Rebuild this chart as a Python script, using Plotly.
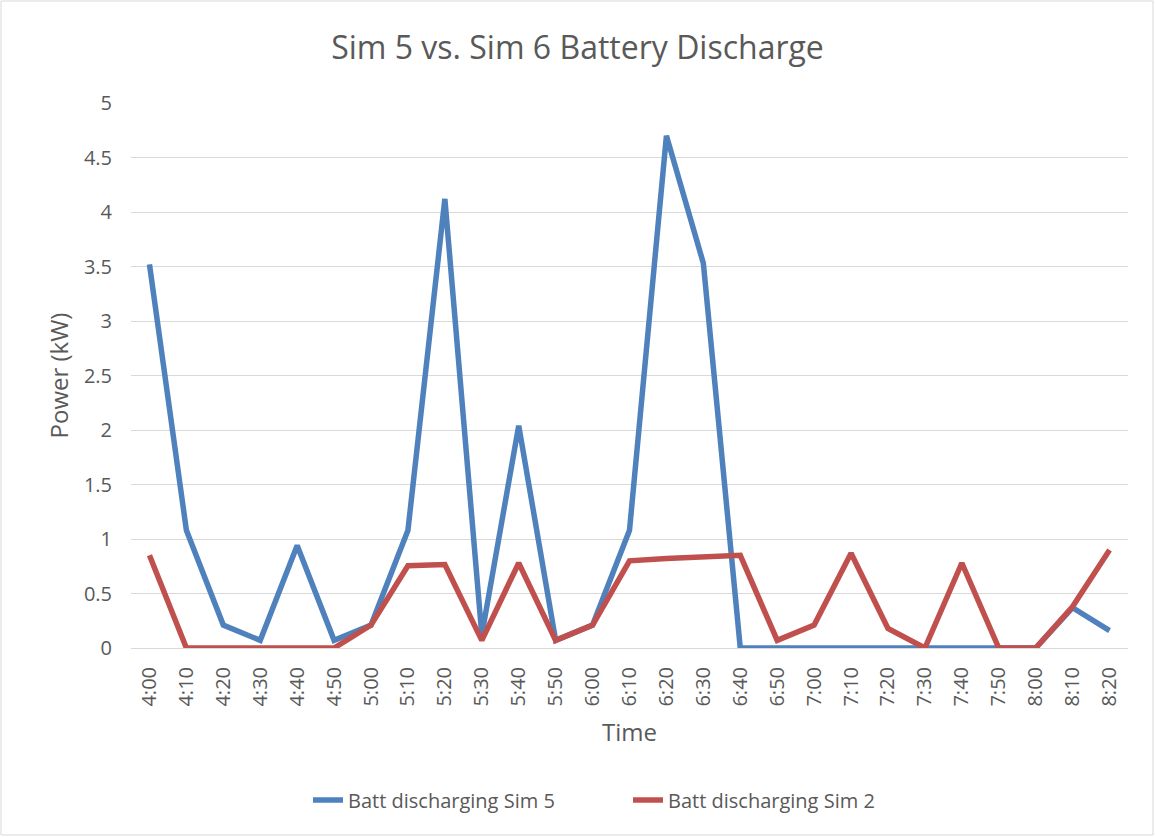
import plotly.graph_objects as go

times = ["4:00","4:10","4:20","4:30","4:40","4:50","5:00","5:10","5:20","5:30",
         "5:40","5:50","6:00","6:10","6:20","6:30","6:40","6:50","7:00","7:10",
         "7:20","7:30","7:40","7:50","8:00","8:10","8:20"]
sim5 = [3.52, 1.08, 0.21, 0.07, 0.94, 0.07, 0.21, 1.08, 4.12, 0.12,
        2.04, 0.07, 0.21, 1.08, 4.70, 3.53, 0.0, 0.0, 0.0, 0.0,
        0.0, 0.0, 0.0, 0.0, 0.0, 0.37, 0.16]
sim2 = [0.85, 0.0, 0.0, 0.0, 0.0, 0.0, 0.21, 0.755, 0.765, 0.07,
        0.78, 0.07, 0.21, 0.80, 0.82, 0.84, 0.85, 0.07, 0.21, 0.87,
        0.18, 0.0, 0.78, 0.0, 0.0, 0.38, 0.90]
y_ticks = [0, 0.5, 1, 1.5, 2, 2.5, 3, 3.5, 4, 4.5, 5]

FONT = "Open Sans"
GRAY = "#595959"

fig = go.Figure()
fig.add_trace(go.Scatter(x=times, y=sim5, mode="lines", name="Batt discharging Sim 5",
                         line=dict(color="#4F81BD", width=5.5)))
fig.add_trace(go.Scatter(x=times, y=sim2, mode="lines", name="Batt discharging Sim 2",
                         line=dict(color="#C0504D", width=5.5)))

fig.update_layout(
    width=1155, height=837,
    margin=dict(l=131, r=27, t=103, b=189),
    paper_bgcolor="white", plot_bgcolor="white",
    font=dict(family=FONT, color=GRAY, size=20),
    title=dict(text="Sim 5 vs. Sim 6 Battery Discharge", x=0.5, xanchor="center",
               y=1 - 48/837, yanchor="middle",
               font=dict(family=FONT, size=32, color=GRAY)),
    showlegend=True,
    legend=dict(orientation="h", x=(308 - 131) / 997, xanchor="left", y=-0.279, yanchor="middle",
                entrywidth=275,
                font=dict(family=FONT, size=20, color=GRAY), bgcolor="rgba(0,0,0,0)"),
    xaxis=dict(type="category", tickangle=-90, showgrid=False, showline=True,
               linecolor="#D9D9D9", linewidth=1, ticks="", ticklabelstandoff=10,
               tickfont=dict(family=FONT, size=20, color=GRAY),
               title=dict(text="Time", font=dict(family=FONT, size=24, color=GRAY), standoff=18),
               range=[-0.5, len(times) - 0.5]),
    yaxis=dict(range=[0, 5], tickvals=y_ticks, ticktext=[f"{v:g}" for v in y_ticks],
               showgrid=True, gridcolor="#D9D9D9", gridwidth=1, zeroline=False,
               showline=False, ticks="", ticklabelstandoff=18,
               tickfont=dict(family=FONT, size=20, color=GRAY),
               title=dict(text="Power (kW)", font=dict(family=FONT, size=24, color=GRAY), standoff=8)),
)

fig.add_shape(type="rect", xref="paper", yref="paper",
              x0=(1 - 131) / 997, x1=(1153 - 131) / 997,
              y0=(648 - 835) / 545, y1=(648 - 1) / 545,
              line=dict(color="#D9D9D9", width=1), layer="below")

fig.write_html("out.html", config={"displayModeBar": False},
               post_script="document.body.style.margin='0';")
